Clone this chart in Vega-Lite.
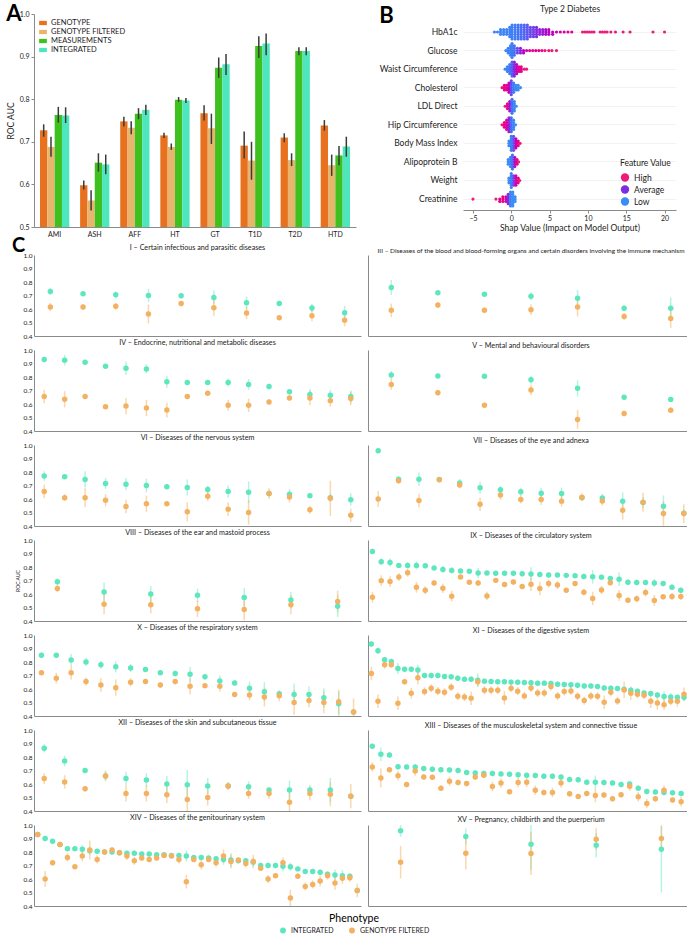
{
"$schema": "https://vega.github.io/schema/vega-lite/v6.json",
"background": "white",
"padding": {"left": 6, "top": 3, "right": 2, "bottom": 0},
"config": {
  "font": "Lato",
  "view": {"stroke": null},
  "axis": {"domainColor": "#8a8a8a", "tickColor": "#8a8a8a", "labelColor": "#222", "titleColor": "#222", "titleFontWeight": "normal", "grid": false},
  "axisY": {"labelFontSize": 6.5, "ticks": false, "tickCount": 6, "labelPadding": 2, "titleFontSize": 5, "titlePadding": 2},
  "title": {"fontWeight": "normal", "color": "#222"},
  "legend": {"layout": {"bottom": {"anchor": "middle"}}}
},
"resolve": {"scale": {"color": "independent", "fill": "independent"}, "legend": {"color": "independent", "fill": "independent"}},
"columns": 1,
"align": "none",
"spacing": -2,
"datasets": {
"c": [
{"c":"I","i":1,"a":0.73,"ae":0.025,"o":0.615,"oe":0.03},
{"c":"I","i":2,"a":0.713,"ae":0.015,"o":0.615,"oe":0.02},
{"c":"I","i":3,"a":0.705,"ae":0.025,"o":0.62,"oe":0.025},
{"c":"I","i":4,"a":0.7,"ae":0.05,"o":0.563,"oe":0.07},
{"c":"I","i":5,"a":0.698,"ae":0.02,"o":0.64,"oe":0.02},
{"c":"I","i":6,"a":0.685,"ae":0.05,"o":0.61,"oe":0.06},
{"c":"I","i":7,"a":0.647,"ae":0.045,"o":0.57,"oe":0.045},
{"c":"I","i":8,"a":0.64,"ae":0.015,"o":0.535,"oe":0.015},
{"c":"I","i":9,"a":0.607,"ae":0.03,"o":0.55,"oe":0.04},
{"c":"I","i":10,"a":0.573,"ae":0.05,"o":0.517,"oe":0.045},
{"c":"III","i":1,"a":0.76,"ae":0.055,"o":0.59,"oe":0.05},
{"c":"III","i":2,"a":0.72,"ae":0.015,"o":0.63,"oe":0.02},
{"c":"III","i":3,"a":0.71,"ae":0.015,"o":0.59,"oe":0.02},
{"c":"III","i":4,"a":0.695,"ae":0.03,"o":0.595,"oe":0.04},
{"c":"III","i":5,"a":0.68,"ae":0.06,"o":0.615,"oe":0.07},
{"c":"III","i":6,"a":0.605,"ae":0.02,"o":0.545,"oe":0.025},
{"c":"III","i":7,"a":0.605,"ae":0.08,"o":0.53,"oe":0.07},
{"c":"IV","i":1,"a":0.93,"ae":0.02,"o":0.655,"oe":0.05},
{"c":"IV","i":2,"a":0.925,"ae":0.04,"o":0.635,"oe":0.06},
{"c":"IV","i":3,"a":0.91,"ae":0.015,"o":0.655,"oe":0.015},
{"c":"IV","i":4,"a":0.88,"ae":0.015,"o":0.58,"oe":0.015},
{"c":"IV","i":5,"a":0.865,"ae":0.05,"o":0.585,"oe":0.06},
{"c":"IV","i":6,"a":0.86,"ae":0.035,"o":0.57,"oe":0.06},
{"c":"IV","i":7,"a":0.765,"ae":0.045,"o":0.555,"oe":0.055},
{"c":"IV","i":8,"a":0.76,"ae":0.015,"o":0.655,"oe":0.015},
{"c":"IV","i":9,"a":0.76,"ae":0.015,"o":0.68,"oe":0.015},
{"c":"IV","i":10,"a":0.76,"ae":0.03,"o":0.59,"oe":0.04},
{"c":"IV","i":11,"a":0.745,"ae":0.04,"o":0.59,"oe":0.05},
{"c":"IV","i":12,"a":0.73,"ae":0.02,"o":0.615,"oe":0.02},
{"c":"IV","i":13,"a":0.69,"ae":0.015,"o":0.645,"oe":0.02},
{"c":"IV","i":14,"a":0.67,"ae":0.04,"o":0.645,"oe":0.055},
{"c":"IV","i":15,"a":0.665,"ae":0.04,"o":0.625,"oe":0.045},
{"c":"IV","i":16,"a":0.655,"ae":0.045,"o":0.64,"oe":0.05},
{"c":"V","i":1,"a":0.814,"ae":0.03,"o":0.745,"oe":0.04},
{"c":"V","i":2,"a":0.807,"ae":0.015,"o":0.684,"oe":0.02},
{"c":"V","i":3,"a":0.805,"ae":0.015,"o":0.59,"oe":0.015},
{"c":"V","i":4,"a":0.78,"ae":0.03,"o":0.704,"oe":0.04},
{"c":"V","i":5,"a":0.716,"ae":0.06,"o":0.486,"oe":0.07},
{"c":"V","i":6,"a":0.65,"ae":0.015,"o":0.53,"oe":0.02},
{"c":"V","i":7,"a":0.633,"ae":0.015,"o":0.554,"oe":0.02},
{"c":"VI","i":1,"a":0.77,"ae":0.035,"o":0.655,"oe":0.05},
{"c":"VI","i":2,"a":0.765,"ae":0.015,"o":0.61,"oe":0.025},
{"c":"VI","i":3,"a":0.745,"ae":0.06,"o":0.61,"oe":0.07},
{"c":"VI","i":4,"a":0.715,"ae":0.04,"o":0.59,"oe":0.045},
{"c":"VI","i":5,"a":0.71,"ae":0.045,"o":0.545,"oe":0.05},
{"c":"VI","i":6,"a":0.7,"ae":0.05,"o":0.565,"oe":0.06},
{"c":"VI","i":7,"a":0.69,"ae":0.015,"o":0.565,"oe":0.015},
{"c":"VI","i":8,"a":0.685,"ae":0.06,"o":0.505,"oe":0.07},
{"c":"VI","i":9,"a":0.67,"ae":0.03,"o":0.62,"oe":0.035},
{"c":"VI","i":10,"a":0.655,"ae":0.045,"o":0.525,"oe":0.05},
{"c":"VI","i":11,"a":0.65,"ae":0.08,"o":0.5,"oe":0.09},
{"c":"VI","i":12,"a":0.64,"ae":0.02,"o":0.64,"oe":0.04},
{"c":"VI","i":13,"a":0.635,"ae":0.04,"o":0.615,"oe":0.04},
{"c":"VI","i":14,"a":0.625,"ae":0.02,"o":0.52,"oe":0.03},
{"c":"VI","i":15,"a":0.61,"ae":0.03,"o":0.605,"oe":0.13},
{"c":"VI","i":16,"a":0.595,"ae":0.045,"o":0.48,"oe":0.05},
{"c":"VII","i":1,"a":0.958,"ae":0.015,"o":0.6,"oe":0.06},
{"c":"VII","i":2,"a":0.747,"ae":0.02,"o":0.735,"oe":0.02},
{"c":"VII","i":3,"a":0.747,"ae":0.05,"o":0.589,"oe":0.05},
{"c":"VII","i":4,"a":0.745,"ae":0.015,"o":0.742,"oe":0.015},
{"c":"VII","i":5,"a":0.718,"ae":0.03,"o":0.703,"oe":0.025},
{"c":"VII","i":6,"a":0.683,"ae":0.045,"o":0.561,"oe":0.05},
{"c":"VII","i":7,"a":0.668,"ae":0.03,"o":0.63,"oe":0.035},
{"c":"VII","i":8,"a":0.653,"ae":0.03,"o":0.596,"oe":0.03},
{"c":"VII","i":9,"a":0.643,"ae":0.04,"o":0.596,"oe":0.04},
{"c":"VII","i":10,"a":0.64,"ae":0.045,"o":0.584,"oe":0.04},
{"c":"VII","i":11,"a":0.61,"ae":0.02,"o":0.613,"oe":0.03},
{"c":"VII","i":12,"a":0.608,"ae":0.03,"o":0.586,"oe":0.035},
{"c":"VII","i":13,"a":0.584,"ae":0.065,"o":0.517,"oe":0.07},
{"c":"VII","i":14,"a":0.574,"ae":0.04,"o":0.576,"oe":0.07},
{"c":"VII","i":15,"a":0.546,"ae":0.08,"o":0.492,"oe":0.09},
{"c":"VII","i":16,"a":0.494,"ae":0.03,"o":0.492,"oe":0.07},
{"c":"VIII","i":1,"a":0.69,"ae":0.025,"o":0.64,"oe":0.025},
{"c":"VIII","i":2,"a":0.615,"ae":0.07,"o":0.525,"oe":0.075},
{"c":"VIII","i":3,"a":0.6,"ae":0.06,"o":0.52,"oe":0.065},
{"c":"VIII","i":4,"a":0.59,"ae":0.05,"o":0.49,"oe":0.06},
{"c":"VIII","i":5,"a":0.575,"ae":0.07,"o":0.485,"oe":0.08},
{"c":"VIII","i":6,"a":0.555,"ae":0.06,"o":0.52,"oe":0.07},
{"c":"VIII","i":7,"a":0.51,"ae":0.08,"o":0.545,"oe":0.08},
{"c":"IX","i":1,"a":0.915,"ae":0.02,"o":0.576,"oe":0.04},
{"c":"IX","i":2,"a":0.839,"ae":0.025,"o":0.699,"oe":0.04},
{"c":"IX","i":3,"a":0.834,"ae":0.03,"o":0.692,"oe":0.04},
{"c":"IX","i":4,"a":0.812,"ae":0.015,"o":0.726,"oe":0.03},
{"c":"IX","i":5,"a":0.812,"ae":0.025,"o":0.758,"oe":0.03},
{"c":"IX","i":6,"a":0.812,"ae":0.03,"o":0.65,"oe":0.04},
{"c":"IX","i":7,"a":0.81,"ae":0.02,"o":0.628,"oe":0.03},
{"c":"IX","i":8,"a":0.792,"ae":0.015,"o":0.682,"oe":0.02},
{"c":"IX","i":9,"a":0.782,"ae":0.025,"o":0.643,"oe":0.035},
{"c":"IX","i":10,"a":0.775,"ae":0.025,"o":0.584,"oe":0.04},
{"c":"IX","i":11,"a":0.77,"ae":0.015,"o":0.726,"oe":0.015},
{"c":"IX","i":12,"a":0.768,"ae":0.015,"o":0.687,"oe":0.015},
{"c":"IX","i":13,"a":0.755,"ae":0.04,"o":0.682,"oe":0.02},
{"c":"IX","i":14,"a":0.755,"ae":0.015,"o":0.586,"oe":0.03},
{"c":"IX","i":15,"a":0.753,"ae":0.015,"o":0.701,"oe":0.015},
{"c":"IX","i":16,"a":0.753,"ae":0.015,"o":0.67,"oe":0.015},
{"c":"IX","i":17,"a":0.753,"ae":0.015,"o":0.689,"oe":0.02},
{"c":"IX","i":18,"a":0.75,"ae":0.02,"o":0.655,"oe":0.02},
{"c":"IX","i":19,"a":0.748,"ae":0.05,"o":0.672,"oe":0.05},
{"c":"IX","i":20,"a":0.745,"ae":0.02,"o":0.64,"oe":0.05},
{"c":"IX","i":21,"a":0.74,"ae":0.02,"o":0.677,"oe":0.03},
{"c":"IX","i":22,"a":0.74,"ae":0.015,"o":0.667,"oe":0.03},
{"c":"IX","i":23,"a":0.738,"ae":0.015,"o":0.628,"oe":0.015},
{"c":"IX","i":24,"a":0.735,"ae":0.015,"o":0.677,"oe":0.02},
{"c":"IX","i":25,"a":0.73,"ae":0.02,"o":0.613,"oe":0.025},
{"c":"IX","i":26,"a":0.727,"ae":0.05,"o":0.567,"oe":0.05},
{"c":"IX","i":27,"a":0.725,"ae":0.02,"o":0.63,"oe":0.03},
{"c":"IX","i":28,"a":0.714,"ae":0.02,"o":0.684,"oe":0.02},
{"c":"IX","i":29,"a":0.71,"ae":0.05,"o":0.589,"oe":0.04},
{"c":"IX","i":30,"a":0.687,"ae":0.02,"o":0.554,"oe":0.02},
{"c":"IX","i":31,"a":0.685,"ae":0.02,"o":0.564,"oe":0.025},
{"c":"IX","i":32,"a":0.685,"ae":0.02,"o":0.611,"oe":0.03},
{"c":"IX","i":33,"a":0.682,"ae":0.03,"o":0.552,"oe":0.04},
{"c":"IX","i":34,"a":0.677,"ae":0.02,"o":0.579,"oe":0.02},
{"c":"IX","i":35,"a":0.65,"ae":0.02,"o":0.581,"oe":0.025},
{"c":"IX","i":36,"a":0.628,"ae":0.02,"o":0.581,"oe":0.025},
{"c":"IX","i":37,"a":0.6,"ae":0.02,"o":0.591,"oe":0.05},
{"c":"X","i":1,"a":0.85,"ae":0.02,"o":0.72,"oe":0.015},
{"c":"X","i":2,"a":0.85,"ae":0.015,"o":0.68,"oe":0.04},
{"c":"X","i":3,"a":0.815,"ae":0.045,"o":0.72,"oe":0.05},
{"c":"X","i":4,"a":0.8,"ae":0.03,"o":0.655,"oe":0.03},
{"c":"X","i":5,"a":0.78,"ae":0.03,"o":0.63,"oe":0.05},
{"c":"X","i":6,"a":0.765,"ae":0.04,"o":0.61,"oe":0.06},
{"c":"X","i":7,"a":0.755,"ae":0.03,"o":0.65,"oe":0.03},
{"c":"X","i":8,"a":0.745,"ae":0.015,"o":0.655,"oe":0.015},
{"c":"X","i":9,"a":0.72,"ae":0.015,"o":0.63,"oe":0.02},
{"c":"X","i":10,"a":0.715,"ae":0.02,"o":0.655,"oe":0.02},
{"c":"X","i":11,"a":0.71,"ae":0.055,"o":0.62,"oe":0.06},
{"c":"X","i":12,"a":0.69,"ae":0.02,"o":0.625,"oe":0.02},
{"c":"X","i":13,"a":0.66,"ae":0.04,"o":0.62,"oe":0.04},
{"c":"X","i":14,"a":0.645,"ae":0.02,"o":0.56,"oe":0.015},
{"c":"X","i":15,"a":0.605,"ae":0.05,"o":0.555,"oe":0.04},
{"c":"X","i":16,"a":0.58,"ae":0.07,"o":0.54,"oe":0.07},
{"c":"X","i":17,"a":0.565,"ae":0.015,"o":0.55,"oe":0.04},
{"c":"X","i":18,"a":0.56,"ae":0.08,"o":0.5,"oe":0.09},
{"c":"X","i":19,"a":0.56,"ae":0.06,"o":0.515,"oe":0.05},
{"c":"X","i":20,"a":0.535,"ae":0.07,"o":0.5,"oe":0.08},
{"c":"X","i":21,"a":0.49,"ae":0.09,"o":0.505,"oe":0.09},
{"c":"X","i":22,"a":0.43,"ae":0.02,"o":0.43,"oe":0.1},
{"c":"XI","i":1,"a":0.933,"ae":0.02,"o":0.715,"oe":0.05},
{"c":"XI","i":2,"a":0.884,"ae":0.025,"o":0.509,"oe":0.05},
{"c":"XI","i":3,"a":0.817,"ae":0.02,"o":0.78,"oe":0.03},
{"c":"XI","i":4,"a":0.804,"ae":0.015,"o":0.78,"oe":0.02},
{"c":"XI","i":5,"a":0.752,"ae":0.04,"o":0.494,"oe":0.05},
{"c":"XI","i":6,"a":0.747,"ae":0.02,"o":0.653,"oe":0.02},
{"c":"XI","i":7,"a":0.747,"ae":0.02,"o":0.569,"oe":0.04},
{"c":"XI","i":8,"a":0.74,"ae":0.04,"o":0.683,"oe":0.05},
{"c":"XI","i":9,"a":0.7,"ae":0.02,"o":0.581,"oe":0.03},
{"c":"XI","i":10,"a":0.7,"ae":0.02,"o":0.606,"oe":0.03},
{"c":"XI","i":11,"a":0.7,"ae":0.02,"o":0.584,"oe":0.03},
{"c":"XI","i":12,"a":0.693,"ae":0.02,"o":0.576,"oe":0.03},
{"c":"XI","i":13,"a":0.69,"ae":0.02,"o":0.613,"oe":0.03},
{"c":"XI","i":14,"a":0.68,"ae":0.02,"o":0.546,"oe":0.03},
{"c":"XI","i":15,"a":0.673,"ae":0.02,"o":0.541,"oe":0.03},
{"c":"XI","i":16,"a":0.673,"ae":0.02,"o":0.532,"oe":0.05},
{"c":"XI","i":17,"a":0.665,"ae":0.05,"o":0.653,"oe":0.03},
{"c":"XI","i":18,"a":0.658,"ae":0.02,"o":0.591,"oe":0.03},
{"c":"XI","i":19,"a":0.656,"ae":0.02,"o":0.591,"oe":0.03},
{"c":"XI","i":20,"a":0.653,"ae":0.02,"o":0.591,"oe":0.03},
{"c":"XI","i":21,"a":0.653,"ae":0.02,"o":0.534,"oe":0.05},
{"c":"XI","i":22,"a":0.651,"ae":0.02,"o":0.606,"oe":0.03},
{"c":"XI","i":23,"a":0.65,"ae":0.02,"o":0.584,"oe":0.03},
{"c":"XI","i":24,"a":0.648,"ae":0.02,"o":0.549,"oe":0.03},
{"c":"XI","i":25,"a":0.646,"ae":0.02,"o":0.608,"oe":0.03},
{"c":"XI","i":26,"a":0.643,"ae":0.02,"o":0.571,"oe":0.03},
{"c":"XI","i":27,"a":0.643,"ae":0.02,"o":0.571,"oe":0.03},
{"c":"XI","i":28,"a":0.641,"ae":0.02,"o":0.618,"oe":0.03},
{"c":"XI","i":29,"a":0.636,"ae":0.02,"o":0.549,"oe":0.03},
{"c":"XI","i":30,"a":0.634,"ae":0.02,"o":0.581,"oe":0.03},
{"c":"XI","i":31,"a":0.631,"ae":0.02,"o":0.586,"oe":0.03},
{"c":"XI","i":32,"a":0.627,"ae":0.02,"o":0.546,"oe":0.03},
{"c":"XI","i":33,"a":0.623,"ae":0.02,"o":0.514,"oe":0.03},
{"c":"XI","i":34,"a":0.623,"ae":0.02,"o":0.549,"oe":0.03},
{"c":"XI","i":35,"a":0.618,"ae":0.02,"o":0.546,"oe":0.03},
{"c":"XI","i":36,"a":0.608,"ae":0.02,"o":0.502,"oe":0.05},
{"c":"XI","i":37,"a":0.606,"ae":0.02,"o":0.576,"oe":0.03},
{"c":"XI","i":38,"a":0.603,"ae":0.02,"o":0.512,"oe":0.03},
{"c":"XI","i":39,"a":0.598,"ae":0.02,"o":0.593,"oe":0.06},
{"c":"XI","i":40,"a":0.591,"ae":0.02,"o":0.569,"oe":0.05},
{"c":"XI","i":41,"a":0.584,"ae":0.02,"o":0.561,"oe":0.03},
{"c":"XI","i":42,"a":0.571,"ae":0.02,"o":0.554,"oe":0.03},
{"c":"XI","i":43,"a":0.566,"ae":0.02,"o":0.509,"oe":0.05},
{"c":"XI","i":44,"a":0.556,"ae":0.02,"o":0.497,"oe":0.05},
{"c":"XI","i":45,"a":0.544,"ae":0.04,"o":0.484,"oe":0.04},
{"c":"XI","i":46,"a":0.541,"ae":0.03,"o":0.509,"oe":0.03},
{"c":"XI","i":47,"a":0.539,"ae":0.02,"o":0.509,"oe":0.04},
{"c":"XI","i":48,"a":0.539,"ae":0.03,"o":0.561,"oe":0.05},
{"c":"XI","i":49,"a":0.45,"ae":0.02,"o":0.477,"oe":0.04},
{"c":"XII","i":1,"a":0.865,"ae":0.03,"o":0.64,"oe":0.04},
{"c":"XII","i":2,"a":0.77,"ae":0.04,"o":0.615,"oe":0.05},
{"c":"XII","i":3,"a":0.7,"ae":0.015,"o":0.565,"oe":0.02},
{"c":"XII","i":4,"a":0.66,"ae":0.03,"o":0.66,"oe":0.04},
{"c":"XII","i":5,"a":0.64,"ae":0.05,"o":0.53,"oe":0.06},
{"c":"XII","i":6,"a":0.63,"ae":0.05,"o":0.53,"oe":0.06},
{"c":"XII","i":7,"a":0.6,"ae":0.06,"o":0.52,"oe":0.06},
{"c":"XII","i":8,"a":0.595,"ae":0.11,"o":0.485,"oe":0.09},
{"c":"XII","i":9,"a":0.585,"ae":0.06,"o":0.5,"oe":0.06},
{"c":"XII","i":10,"a":0.585,"ae":0.02,"o":0.585,"oe":0.03},
{"c":"XII","i":11,"a":0.58,"ae":0.04,"o":0.53,"oe":0.04},
{"c":"XII","i":12,"a":0.555,"ae":0.02,"o":0.53,"oe":0.04},
{"c":"XII","i":13,"a":0.555,"ae":0.07,"o":0.465,"oe":0.07},
{"c":"XII","i":14,"a":0.555,"ae":0.04,"o":0.53,"oe":0.05},
{"c":"XII","i":15,"a":0.555,"ae":0.09,"o":0.525,"oe":0.09},
{"c":"XII","i":16,"a":0.51,"ae":0.02,"o":0.51,"oe":0.09},
{"c":"XIII","i":1,"a":0.88,"ae":0.02,"o":0.726,"oe":0.035},
{"c":"XIII","i":2,"a":0.82,"ae":0.05,"o":0.645,"oe":0.07},
{"c":"XIII","i":3,"a":0.815,"ae":0.02,"o":0.706,"oe":0.02},
{"c":"XIII","i":4,"a":0.728,"ae":0.02,"o":0.662,"oe":0.035},
{"c":"XIII","i":5,"a":0.726,"ae":0.02,"o":0.596,"oe":0.02},
{"c":"XIII","i":6,"a":0.726,"ae":0.02,"o":0.697,"oe":0.035},
{"c":"XIII","i":7,"a":0.714,"ae":0.02,"o":0.652,"oe":0.02},
{"c":"XIII","i":8,"a":0.71,"ae":0.02,"o":0.65,"oe":0.02},
{"c":"XIII","i":9,"a":0.706,"ae":0.02,"o":0.569,"oe":0.02},
{"c":"XIII","i":10,"a":0.704,"ae":0.02,"o":0.62,"oe":0.035},
{"c":"XIII","i":11,"a":0.7,"ae":0.02,"o":0.611,"oe":0.02},
{"c":"XIII","i":12,"a":0.685,"ae":0.02,"o":0.603,"oe":0.02},
{"c":"XIII","i":13,"a":0.682,"ae":0.02,"o":0.652,"oe":0.02},
{"c":"XIII","i":14,"a":0.678,"ae":0.02,"o":0.665,"oe":0.02},
{"c":"XIII","i":15,"a":0.678,"ae":0.02,"o":0.581,"oe":0.035},
{"c":"XIII","i":16,"a":0.675,"ae":0.02,"o":0.608,"oe":0.035},
{"c":"XIII","i":17,"a":0.672,"ae":0.02,"o":0.542,"oe":0.02},
{"c":"XIII","i":18,"a":0.668,"ae":0.02,"o":0.611,"oe":0.035},
{"c":"XIII","i":19,"a":0.665,"ae":0.02,"o":0.613,"oe":0.035},
{"c":"XIII","i":20,"a":0.663,"ae":0.02,"o":0.554,"oe":0.035},
{"c":"XIII","i":21,"a":0.658,"ae":0.02,"o":0.537,"oe":0.02},
{"c":"XIII","i":22,"a":0.658,"ae":0.02,"o":0.537,"oe":0.035},
{"c":"XIII","i":23,"a":0.652,"ae":0.02,"o":0.608,"oe":0.035},
{"c":"XIII","i":24,"a":0.633,"ae":0.02,"o":0.527,"oe":0.02},
{"c":"XIII","i":25,"a":0.631,"ae":0.02,"o":0.508,"oe":0.02},
{"c":"XIII","i":26,"a":0.613,"ae":0.02,"o":0.53,"oe":0.02},
{"c":"XIII","i":27,"a":0.613,"ae":0.05,"o":0.515,"oe":0.05},
{"c":"XIII","i":28,"a":0.611,"ae":0.02,"o":0.518,"oe":0.02},
{"c":"XIII","i":29,"a":0.608,"ae":0.02,"o":0.491,"oe":0.02},
{"c":"XIII","i":30,"a":0.596,"ae":0.02,"o":0.52,"oe":0.02},
{"c":"XIII","i":31,"a":0.6,"ae":0.02,"o":0.584,"oe":0.035},
{"c":"XIII","i":32,"a":0.569,"ae":0.02,"o":0.505,"oe":0.035},
{"c":"XIII","i":33,"a":0.545,"ae":0.02,"o":0.456,"oe":0.035},
{"c":"XIII","i":34,"a":0.541,"ae":0.02,"o":0.491,"oe":0.02},
{"c":"XIII","i":35,"a":0.537,"ae":0.02,"o":0.554,"oe":0.035},
{"c":"XIII","i":36,"a":0.535,"ae":0.02,"o":0.481,"oe":0.02},
{"c":"XIII","i":37,"a":0.53,"ae":0.02,"o":0.469,"oe":0.035},
{"c":"XIII","i":38,"a":0.53,"ae":0.02,"o":0.503,"oe":0.02},
{"c":"XIV","i":1,"a":0.93,"ae":0.015,"o":0.93,"oe":0.015},
{"c":"XIV","i":2,"a":0.9,"ae":0.02,"o":0.6,"oe":0.06},
{"c":"XIV","i":3,"a":0.88,"ae":0.015,"o":0.72,"oe":0.02},
{"c":"XIV","i":4,"a":0.855,"ae":0.015,"o":0.855,"oe":0.015},
{"c":"XIV","i":5,"a":0.825,"ae":0.02,"o":0.76,"oe":0.03},
{"c":"XIV","i":6,"a":0.825,"ae":0.015,"o":0.69,"oe":0.015},
{"c":"XIV","i":7,"a":0.82,"ae":0.03,"o":0.77,"oe":0.04},
{"c":"XIV","i":8,"a":0.81,"ae":0.03,"o":0.815,"oe":0.07},
{"c":"XIV","i":9,"a":0.805,"ae":0.02,"o":0.745,"oe":0.03},
{"c":"XIV","i":10,"a":0.8,"ae":0.015,"o":0.8,"oe":0.015},
{"c":"XIV","i":11,"a":0.8,"ae":0.02,"o":0.815,"oe":0.02},
{"c":"XIV","i":12,"a":0.795,"ae":0.015,"o":0.795,"oe":0.015},
{"c":"XIV","i":13,"a":0.79,"ae":0.02,"o":0.77,"oe":0.03},
{"c":"XIV","i":14,"a":0.79,"ae":0.02,"o":0.735,"oe":0.03},
{"c":"XIV","i":15,"a":0.785,"ae":0.015,"o":0.755,"oe":0.02},
{"c":"XIV","i":16,"a":0.785,"ae":0.015,"o":0.745,"oe":0.02},
{"c":"XIV","i":17,"a":0.78,"ae":0.015,"o":0.755,"oe":0.02},
{"c":"XIV","i":18,"a":0.78,"ae":0.015,"o":0.775,"oe":0.015},
{"c":"XIV","i":19,"a":0.775,"ae":0.015,"o":0.77,"oe":0.015},
{"c":"XIV","i":20,"a":0.775,"ae":0.02,"o":0.745,"oe":0.03},
{"c":"XIV","i":21,"a":0.77,"ae":0.04,"o":0.58,"oe":0.05},
{"c":"XIV","i":22,"a":0.76,"ae":0.015,"o":0.745,"oe":0.02},
{"c":"XIV","i":23,"a":0.76,"ae":0.02,"o":0.705,"oe":0.035},
{"c":"XIV","i":24,"a":0.755,"ae":0.015,"o":0.745,"oe":0.02},
{"c":"XIV","i":25,"a":0.75,"ae":0.02,"o":0.72,"oe":0.03},
{"c":"XIV","i":26,"a":0.745,"ae":0.04,"o":0.77,"oe":0.05},
{"c":"XIV","i":27,"a":0.74,"ae":0.05,"o":0.73,"oe":0.05},
{"c":"XIV","i":28,"a":0.735,"ae":0.015,"o":0.74,"oe":0.02},
{"c":"XIV","i":29,"a":0.735,"ae":0.02,"o":0.715,"oe":0.03},
{"c":"XIV","i":30,"a":0.725,"ae":0.03,"o":0.73,"oe":0.05},
{"c":"XIV","i":31,"a":0.7,"ae":0.015,"o":0.68,"oe":0.02},
{"c":"XIV","i":32,"a":0.7,"ae":0.02,"o":0.6,"oe":0.03},
{"c":"XIV","i":33,"a":0.7,"ae":0.02,"o":0.625,"oe":0.02},
{"c":"XIV","i":34,"a":0.695,"ae":0.04,"o":0.72,"oe":0.04},
{"c":"XIV","i":35,"a":0.69,"ae":0.03,"o":0.46,"oe":0.06},
{"c":"XIV","i":36,"a":0.675,"ae":0.015,"o":0.62,"oe":0.02},
{"c":"XIV","i":37,"a":0.655,"ae":0.015,"o":0.545,"oe":0.03},
{"c":"XIV","i":38,"a":0.655,"ae":0.02,"o":0.56,"oe":0.03},
{"c":"XIV","i":39,"a":0.65,"ae":0.02,"o":0.585,"oe":0.04},
{"c":"XIV","i":40,"a":0.635,"ae":0.02,"o":0.625,"oe":0.03},
{"c":"XIV","i":41,"a":0.63,"ae":0.04,"o":0.57,"oe":0.05},
{"c":"XIV","i":42,"a":0.625,"ae":0.04,"o":0.605,"oe":0.04},
{"c":"XIV","i":43,"a":0.62,"ae":0.02,"o":0.61,"oe":0.03},
{"c":"XIV","i":44,"a":0.515,"ae":0.02,"o":0.515,"oe":0.05},
{"c":"XV","i":1,"a":0.957,"ae":0.045,"o":0.724,"oe":0.12},
{"c":"XV","i":2,"a":0.915,"ae":0.06,"o":0.79,"oe":0.12},
{"c":"XV","i":3,"a":0.858,"ae":0.19,"o":0.789,"oe":0.16},
{"c":"XV","i":4,"a":0.85,"ae":0.09,"o":0.895,"oe":0.08},
{"c":"XV","i":5,"a":0.82,"ae":0.32,"o":0.9,"oe":0.09}
]
},
"concat": [
{
"spacing": 23,
"resolve": {"scale": {"color": "independent", "fill": "independent"}, "legend": {"color": "independent", "fill": "independent"}},
"hconcat": [
{
"title": {"text": "A", "anchor": "start", "frame": "bounds", "fontSize": 22, "fontWeight": "bold", "color": "#000", "offset": -16},
"width": 322, "height": 213,
"data": {"values": [
{"p":"AMI","g":"GENOTYPE","v":0.727,"lo":0.712,"hi":0.741},
{"p":"AMI","g":"GENOTYPE FILTERED","v":0.688,"lo":0.665,"hi":0.712},
{"p":"AMI","g":"MEASUREMENTS","v":0.763,"lo":0.745,"hi":0.782},
{"p":"AMI","g":"INTEGRATED","v":0.762,"lo":0.744,"hi":0.781},
{"p":"ASH","g":"GENOTYPE","v":0.598,"lo":0.588,"hi":0.609},
{"p":"ASH","g":"GENOTYPE FILTERED","v":0.562,"lo":0.539,"hi":0.586},
{"p":"ASH","g":"MEASUREMENTS","v":0.651,"lo":0.63,"hi":0.673},
{"p":"ASH","g":"INTEGRATED","v":0.647,"lo":0.624,"hi":0.67},
{"p":"AFF","g":"GENOTYPE","v":0.748,"lo":0.736,"hi":0.759},
{"p":"AFF","g":"GENOTYPE FILTERED","v":0.733,"lo":0.718,"hi":0.748},
{"p":"AFF","g":"MEASUREMENTS","v":0.766,"lo":0.753,"hi":0.779},
{"p":"AFF","g":"INTEGRATED","v":0.775,"lo":0.763,"hi":0.787},
{"p":"HT","g":"GENOTYPE","v":0.715,"lo":0.709,"hi":0.721},
{"p":"HT","g":"GENOTYPE FILTERED","v":0.688,"lo":0.681,"hi":0.696},
{"p":"HT","g":"MEASUREMENTS","v":0.799,"lo":0.794,"hi":0.805},
{"p":"HT","g":"INTEGRATED","v":0.797,"lo":0.791,"hi":0.803},
{"p":"GT","g":"GENOTYPE","v":0.767,"lo":0.75,"hi":0.786},
{"p":"GT","g":"GENOTYPE FILTERED","v":0.732,"lo":0.695,"hi":0.766},
{"p":"GT","g":"MEASUREMENTS","v":0.874,"lo":0.85,"hi":0.898},
{"p":"GT","g":"INTEGRATED","v":0.882,"lo":0.857,"hi":0.906},
{"p":"T1D","g":"GENOTYPE","v":0.691,"lo":0.661,"hi":0.724},
{"p":"T1D","g":"GENOTYPE FILTERED","v":0.656,"lo":0.611,"hi":0.7},
{"p":"T1D","g":"MEASUREMENTS","v":0.925,"lo":0.897,"hi":0.948},
{"p":"T1D","g":"INTEGRATED","v":0.931,"lo":0.903,"hi":0.954},
{"p":"T2D","g":"GENOTYPE","v":0.71,"lo":0.699,"hi":0.72},
{"p":"T2D","g":"GENOTYPE FILTERED","v":0.657,"lo":0.643,"hi":0.673},
{"p":"T2D","g":"MEASUREMENTS","v":0.913,"lo":0.903,"hi":0.922},
{"p":"T2D","g":"INTEGRATED","v":0.913,"lo":0.903,"hi":0.922},
{"p":"HTD","g":"GENOTYPE","v":0.738,"lo":0.726,"hi":0.751},
{"p":"HTD","g":"GENOTYPE FILTERED","v":0.645,"lo":0.62,"hi":0.67},
{"p":"HTD","g":"MEASUREMENTS","v":0.668,"lo":0.645,"hi":0.69},
{"p":"HTD","g":"INTEGRATED","v":0.689,"lo":0.665,"hi":0.712}
]},
"encoding": {
  "x": {"field": "p", "type": "nominal", "sort": null, "scale": {"paddingInner": 0.27, "paddingOuter": 0.15}, "axis": {"title": null, "labelAngle": 0, "labelFontSize": 7, "ticks": false, "labelPadding": 3}},
  "xOffset": {"field": "g", "type": "nominal", "sort": ["GENOTYPE","GENOTYPE FILTERED","MEASUREMENTS","INTEGRATED"], "scale": {"paddingInner": 0, "paddingOuter": 0}}
},
"layer": [
{"mark": {"type": "bar"},
 "encoding": {
  "y": {"field": "v", "type": "quantitative", "scale": {"domain": [0.5, 1.0], "nice": false, "zero": false}, "axis": {"title": "ROC AUC", "labelFontSize": 7, "titleFontSize": 8.5, "ticks": true, "tickSize": 3, "labelPadding": 2, "titlePadding": 4}},
  "y2": {"datum": 0.5},
  "color": {"field": "g", "type": "nominal", "sort": ["GENOTYPE","GENOTYPE FILTERED","MEASUREMENTS","INTEGRATED"], "scale": {"domain": ["GENOTYPE","GENOTYPE FILTERED","MEASUREMENTS","INTEGRATED"], "range": ["#E8711F","#E8B56F","#3EC11E","#4EE7BD"]}, "legend": {"title": null, "orient": "top-left", "offset": 5, "labelFontSize": 7.5, "symbolType": "M-1,-0.55H1V0.55H-1Z", "symbolSize": 60, "rowPadding": 1, "symbolStrokeWidth": 0, "labelColor": "#222"}}
 }},
{"mark": {"type": "rule", "color": "#3a3a3a", "strokeWidth": 1.5},
 "encoding": {"y": {"field": "lo", "type": "quantitative"}, "y2": {"field": "hi"}}}
]
},
{
"title": {"text": "B", "anchor": "start", "frame": "bounds", "fontSize": 22, "fontWeight": "bold", "color": "#000", "offset": -24},
"width": 213, "height": 196,
"resolve": {"axis": {"x": "independent"}},
"layer": [
{"data": {"values": [
{"f":"HbA1c","x":-2.2,"v":0.05,"s":0},
{"f":"HbA1c","x":-1.8,"v":0.05,"s":0},
{"f":"HbA1c","x":-1.4,"v":0.05,"s":0},{"f":"HbA1c","x":-1.4,"v":0.05,"s":1},{"f":"HbA1c","x":-1.4,"v":0.05,"s":-1},
{"f":"HbA1c","x":-1.0,"v":0.05,"s":0},{"f":"HbA1c","x":-1.0,"v":0.05,"s":1},{"f":"HbA1c","x":-1.0,"v":0.05,"s":-1},
{"f":"HbA1c","x":-0.6,"v":0.05,"s":0},{"f":"HbA1c","x":-0.6,"v":0.05,"s":1},{"f":"HbA1c","x":-0.6,"v":0.05,"s":-1},
{"f":"HbA1c","x":-0.2,"v":0.08,"s":0},{"f":"HbA1c","x":-0.2,"v":0.08,"s":1},{"f":"HbA1c","x":-0.2,"v":0.08,"s":-1},{"f":"HbA1c","x":-0.2,"v":0.08,"s":2},{"f":"HbA1c","x":-0.2,"v":0.08,"s":-2},
{"f":"HbA1c","x":0.1,"v":0.1,"s":0},{"f":"HbA1c","x":0.1,"v":0.1,"s":1},{"f":"HbA1c","x":0.1,"v":0.1,"s":-1},{"f":"HbA1c","x":0.1,"v":0.1,"s":2},{"f":"HbA1c","x":0.1,"v":0.1,"s":-2},{"f":"HbA1c","x":0.1,"v":0.1,"s":3},{"f":"HbA1c","x":0.1,"v":0.1,"s":-3},
{"f":"HbA1c","x":0.5,"v":0.12,"s":0},{"f":"HbA1c","x":0.5,"v":0.12,"s":1},{"f":"HbA1c","x":0.5,"v":0.12,"s":-1},{"f":"HbA1c","x":0.5,"v":0.12,"s":2},{"f":"HbA1c","x":0.5,"v":0.12,"s":-2},{"f":"HbA1c","x":0.5,"v":0.12,"s":3},{"f":"HbA1c","x":0.5,"v":0.12,"s":-3},
{"f":"HbA1c","x":0.9,"v":0.18,"s":0},{"f":"HbA1c","x":0.9,"v":0.18,"s":1},{"f":"HbA1c","x":0.9,"v":0.18,"s":-1},{"f":"HbA1c","x":0.9,"v":0.18,"s":2},{"f":"HbA1c","x":0.9,"v":0.18,"s":-2},{"f":"HbA1c","x":0.9,"v":0.18,"s":3},{"f":"HbA1c","x":0.9,"v":0.18,"s":-3},
{"f":"HbA1c","x":1.3,"v":0.22,"s":0},{"f":"HbA1c","x":1.3,"v":0.22,"s":1},{"f":"HbA1c","x":1.3,"v":0.22,"s":-1},{"f":"HbA1c","x":1.3,"v":0.22,"s":2},{"f":"HbA1c","x":1.3,"v":0.22,"s":-2},{"f":"HbA1c","x":1.3,"v":0.22,"s":3},{"f":"HbA1c","x":1.3,"v":0.22,"s":-3},
{"f":"HbA1c","x":1.7,"v":0.28,"s":0},{"f":"HbA1c","x":1.7,"v":0.28,"s":1},{"f":"HbA1c","x":1.7,"v":0.28,"s":-1},{"f":"HbA1c","x":1.7,"v":0.28,"s":2},{"f":"HbA1c","x":1.7,"v":0.28,"s":-2},{"f":"HbA1c","x":1.7,"v":0.28,"s":3},{"f":"HbA1c","x":1.7,"v":0.28,"s":-3},
{"f":"HbA1c","x":2.1,"v":0.33,"s":0},{"f":"HbA1c","x":2.1,"v":0.33,"s":1},{"f":"HbA1c","x":2.1,"v":0.33,"s":-1},{"f":"HbA1c","x":2.1,"v":0.33,"s":2},{"f":"HbA1c","x":2.1,"v":0.33,"s":-2},{"f":"HbA1c","x":2.1,"v":0.33,"s":3},{"f":"HbA1c","x":2.1,"v":0.33,"s":-3},
{"f":"HbA1c","x":2.5,"v":0.4,"s":0},{"f":"HbA1c","x":2.5,"v":0.4,"s":1},{"f":"HbA1c","x":2.5,"v":0.4,"s":-1},{"f":"HbA1c","x":2.5,"v":0.4,"s":2},{"f":"HbA1c","x":2.5,"v":0.4,"s":-2},
{"f":"HbA1c","x":2.9,"v":0.45,"s":0},{"f":"HbA1c","x":2.9,"v":0.45,"s":1},{"f":"HbA1c","x":2.9,"v":0.45,"s":-1},{"f":"HbA1c","x":2.9,"v":0.45,"s":2},{"f":"HbA1c","x":2.9,"v":0.45,"s":-2},
{"f":"HbA1c","x":3.3,"v":0.5,"s":0},{"f":"HbA1c","x":3.3,"v":0.5,"s":1},{"f":"HbA1c","x":3.3,"v":0.5,"s":-1},{"f":"HbA1c","x":3.3,"v":0.5,"s":2},{"f":"HbA1c","x":3.3,"v":0.5,"s":-2},
{"f":"HbA1c","x":3.7,"v":0.55,"s":0},{"f":"HbA1c","x":3.7,"v":0.55,"s":1},{"f":"HbA1c","x":3.7,"v":0.55,"s":-1},
{"f":"HbA1c","x":4.1,"v":0.58,"s":0},{"f":"HbA1c","x":4.1,"v":0.58,"s":1},{"f":"HbA1c","x":4.1,"v":0.58,"s":-1},
{"f":"HbA1c","x":4.5,"v":0.62,"s":0},{"f":"HbA1c","x":4.5,"v":0.62,"s":1},{"f":"HbA1c","x":4.5,"v":0.62,"s":-1},
{"f":"HbA1c","x":4.9,"v":0.65,"s":0},{"f":"HbA1c","x":4.9,"v":0.65,"s":1},{"f":"HbA1c","x":4.9,"v":0.65,"s":-1},
{"f":"HbA1c","x":5.4,"v":0.7,"s":0},{"f":"HbA1c","x":5.4,"v":0.7,"s":1},
{"f":"HbA1c","x":5.9,"v":0.75,"s":0},{"f":"HbA1c","x":6.4,"v":0.78,"s":0},{"f":"HbA1c","x":6.9,"v":0.8,"s":0},{"f":"HbA1c","x":7.4,"v":0.83,"s":0},{"f":"HbA1c","x":7.9,"v":0.86,"s":0},
{"f":"HbA1c","x":9.3,"v":1,"s":0},{"f":"HbA1c","x":9.6,"v":1,"s":0},{"f":"HbA1c","x":9.9,"v":1,"s":0},{"f":"HbA1c","x":10.2,"v":1,"s":0},{"f":"HbA1c","x":10.5,"v":1,"s":0},{"f":"HbA1c","x":10.8,"v":1,"s":0},
{"f":"HbA1c","x":11.6,"v":1,"s":0},{"f":"HbA1c","x":11.9,"v":1,"s":0},{"f":"HbA1c","x":12.2,"v":1,"s":0},{"f":"HbA1c","x":12.5,"v":1,"s":0},{"f":"HbA1c","x":13.0,"v":1,"s":0},{"f":"HbA1c","x":13.6,"v":1,"s":0},
{"f":"HbA1c","x":14.6,"v":1,"s":0},{"f":"HbA1c","x":15.5,"v":1,"s":0},{"f":"HbA1c","x":18.5,"v":1,"s":0},{"f":"HbA1c","x":20.0,"v":1,"s":0},
{"f":"Glucose","x":-0.7,"v":0.1,"s":0},
{"f":"Glucose","x":-0.4,"v":0.1,"s":0},{"f":"Glucose","x":-0.4,"v":0.1,"s":1},{"f":"Glucose","x":-0.4,"v":0.1,"s":-1},
{"f":"Glucose","x":-0.1,"v":0.1,"s":0},{"f":"Glucose","x":-0.1,"v":0.1,"s":1},{"f":"Glucose","x":-0.1,"v":0.1,"s":-1},{"f":"Glucose","x":-0.1,"v":0.1,"s":2},{"f":"Glucose","x":-0.1,"v":0.1,"s":-2},
{"f":"Glucose","x":0.1,"v":0.1,"s":0},{"f":"Glucose","x":0.1,"v":0.1,"s":1},{"f":"Glucose","x":0.1,"v":0.1,"s":-1},{"f":"Glucose","x":0.1,"v":0.1,"s":2},{"f":"Glucose","x":0.1,"v":0.1,"s":-2},{"f":"Glucose","x":0.1,"v":0.1,"s":3},{"f":"Glucose","x":0.1,"v":0.1,"s":-3},
{"f":"Glucose","x":0.4,"v":0.2,"s":0},{"f":"Glucose","x":0.4,"v":0.2,"s":1},{"f":"Glucose","x":0.4,"v":0.2,"s":-1},{"f":"Glucose","x":0.4,"v":0.2,"s":2},{"f":"Glucose","x":0.4,"v":0.2,"s":-2},
{"f":"Glucose","x":0.8,"v":0.4,"s":0},{"f":"Glucose","x":0.8,"v":0.4,"s":1},{"f":"Glucose","x":0.8,"v":0.4,"s":-1},
{"f":"Glucose","x":1.2,"v":0.55,"s":0},{"f":"Glucose","x":1.2,"v":0.55,"s":1},{"f":"Glucose","x":1.2,"v":0.55,"s":-1},
{"f":"Glucose","x":1.6,"v":0.65,"s":0},{"f":"Glucose","x":1.6,"v":0.65,"s":1},
{"f":"Glucose","x":2.0,"v":0.75,"s":0},{"f":"Glucose","x":2.4,"v":0.85,"s":0},{"f":"Glucose","x":2.8,"v":0.9,"s":0},{"f":"Glucose","x":3.2,"v":0.92,"s":0},{"f":"Glucose","x":3.6,"v":0.95,"s":0},
{"f":"Glucose","x":4.0,"v":0.97,"s":0},{"f":"Glucose","x":4.4,"v":1,"s":0},{"f":"Glucose","x":4.9,"v":1,"s":0},{"f":"Glucose","x":5.3,"v":1,"s":0},{"f":"Glucose","x":5.9,"v":1,"s":0},
{"f":"Waist Circumference","x":-0.8,"v":0.05,"s":0},
{"f":"Waist Circumference","x":-0.5,"v":0.1,"s":0},{"f":"Waist Circumference","x":-0.5,"v":0.1,"s":1},{"f":"Waist Circumference","x":-0.5,"v":0.1,"s":-1},
{"f":"Waist Circumference","x":-0.2,"v":0.15,"s":0},{"f":"Waist Circumference","x":-0.2,"v":0.15,"s":1},{"f":"Waist Circumference","x":-0.2,"v":0.15,"s":-1},{"f":"Waist Circumference","x":-0.2,"v":0.15,"s":2},{"f":"Waist Circumference","x":-0.2,"v":0.15,"s":-2},
{"f":"Waist Circumference","x":0.1,"v":0.3,"s":0},{"f":"Waist Circumference","x":0.1,"v":0.3,"s":1},{"f":"Waist Circumference","x":0.1,"v":0.3,"s":-1},{"f":"Waist Circumference","x":0.1,"v":0.3,"s":2},{"f":"Waist Circumference","x":0.1,"v":0.3,"s":-2},{"f":"Waist Circumference","x":0.1,"v":0.3,"s":3},{"f":"Waist Circumference","x":0.1,"v":0.3,"s":-3},
{"f":"Waist Circumference","x":0.4,"v":0.5,"s":0},{"f":"Waist Circumference","x":0.4,"v":0.5,"s":1},{"f":"Waist Circumference","x":0.4,"v":0.5,"s":-1},{"f":"Waist Circumference","x":0.4,"v":0.5,"s":2},{"f":"Waist Circumference","x":0.4,"v":0.5,"s":-2},{"f":"Waist Circumference","x":0.4,"v":0.5,"s":3},{"f":"Waist Circumference","x":0.4,"v":0.5,"s":-3},
{"f":"Waist Circumference","x":0.7,"v":0.7,"s":0},{"f":"Waist Circumference","x":0.7,"v":0.7,"s":1},{"f":"Waist Circumference","x":0.7,"v":0.7,"s":-1},{"f":"Waist Circumference","x":0.7,"v":0.7,"s":2},{"f":"Waist Circumference","x":0.7,"v":0.7,"s":-2},
{"f":"Waist Circumference","x":1.0,"v":0.85,"s":0},{"f":"Waist Circumference","x":1.0,"v":0.85,"s":1},{"f":"Waist Circumference","x":1.0,"v":0.85,"s":-1},
{"f":"Waist Circumference","x":1.3,"v":0.92,"s":0},{"f":"Waist Circumference","x":1.3,"v":0.92,"s":1},{"f":"Waist Circumference","x":1.3,"v":0.92,"s":-1},
{"f":"Waist Circumference","x":1.7,"v":1,"s":0},{"f":"Waist Circumference","x":2.0,"v":1,"s":0},
{"f":"Cholesterol","x":-1.2,"v":1,"s":0},
{"f":"Cholesterol","x":-0.9,"v":0.95,"s":0},{"f":"Cholesterol","x":-0.9,"v":0.95,"s":1},{"f":"Cholesterol","x":-0.9,"v":0.95,"s":-1},
{"f":"Cholesterol","x":-0.6,"v":0.9,"s":0},{"f":"Cholesterol","x":-0.6,"v":0.9,"s":1},{"f":"Cholesterol","x":-0.6,"v":0.9,"s":-1},
{"f":"Cholesterol","x":-0.3,"v":0.7,"s":0},{"f":"Cholesterol","x":-0.3,"v":0.7,"s":1},{"f":"Cholesterol","x":-0.3,"v":0.7,"s":-1},{"f":"Cholesterol","x":-0.3,"v":0.7,"s":2},{"f":"Cholesterol","x":-0.3,"v":0.7,"s":-2},
{"f":"Cholesterol","x":0.0,"v":0.4,"s":0},{"f":"Cholesterol","x":0.0,"v":0.4,"s":1},{"f":"Cholesterol","x":0.0,"v":0.4,"s":-1},{"f":"Cholesterol","x":0.0,"v":0.4,"s":2},{"f":"Cholesterol","x":0.0,"v":0.4,"s":-2},{"f":"Cholesterol","x":0.0,"v":0.4,"s":3},{"f":"Cholesterol","x":0.0,"v":0.4,"s":-3},
{"f":"Cholesterol","x":0.3,"v":0.15,"s":0},{"f":"Cholesterol","x":0.3,"v":0.15,"s":1},{"f":"Cholesterol","x":0.3,"v":0.15,"s":-1},{"f":"Cholesterol","x":0.3,"v":0.15,"s":2},{"f":"Cholesterol","x":0.3,"v":0.15,"s":-2},
{"f":"Cholesterol","x":0.6,"v":0.05,"s":0},{"f":"Cholesterol","x":0.6,"v":0.05,"s":1},{"f":"Cholesterol","x":0.6,"v":0.05,"s":-1},
{"f":"Cholesterol","x":0.9,"v":0,"s":0},{"f":"Cholesterol","x":0.9,"v":0,"s":1},{"f":"Cholesterol","x":0.9,"v":0,"s":-1},
{"f":"Cholesterol","x":1.2,"v":0,"s":0},
{"f":"LDL Direct","x":-0.8,"v":1,"s":0},
{"f":"LDL Direct","x":-0.5,"v":0.9,"s":0},{"f":"LDL Direct","x":-0.5,"v":0.9,"s":1},{"f":"LDL Direct","x":-0.5,"v":0.9,"s":-1},
{"f":"LDL Direct","x":-0.2,"v":0.6,"s":0},{"f":"LDL Direct","x":-0.2,"v":0.6,"s":1},{"f":"LDL Direct","x":-0.2,"v":0.6,"s":-1},{"f":"LDL Direct","x":-0.2,"v":0.6,"s":2},{"f":"LDL Direct","x":-0.2,"v":0.6,"s":-2},
{"f":"LDL Direct","x":0.1,"v":0.2,"s":0},{"f":"LDL Direct","x":0.1,"v":0.2,"s":1},{"f":"LDL Direct","x":0.1,"v":0.2,"s":-1},{"f":"LDL Direct","x":0.1,"v":0.2,"s":2},{"f":"LDL Direct","x":0.1,"v":0.2,"s":-2},{"f":"LDL Direct","x":0.1,"v":0.2,"s":3},{"f":"LDL Direct","x":0.1,"v":0.2,"s":-3},
{"f":"LDL Direct","x":0.4,"v":0.05,"s":0},{"f":"LDL Direct","x":0.4,"v":0.05,"s":1},{"f":"LDL Direct","x":0.4,"v":0.05,"s":-1},{"f":"LDL Direct","x":0.4,"v":0.05,"s":2},{"f":"LDL Direct","x":0.4,"v":0.05,"s":-2},
{"f":"LDL Direct","x":0.65,"v":0,"s":0},
{"f":"Hip Circumference","x":-1.2,"v":1,"s":0},
{"f":"Hip Circumference","x":-0.9,"v":0.95,"s":0},{"f":"Hip Circumference","x":-0.9,"v":0.95,"s":1},{"f":"Hip Circumference","x":-0.9,"v":0.95,"s":-1},
{"f":"Hip Circumference","x":-0.6,"v":0.85,"s":0},{"f":"Hip Circumference","x":-0.6,"v":0.85,"s":1},{"f":"Hip Circumference","x":-0.6,"v":0.85,"s":-1},{"f":"Hip Circumference","x":-0.6,"v":0.85,"s":2},{"f":"Hip Circumference","x":-0.6,"v":0.85,"s":-2},
{"f":"Hip Circumference","x":-0.3,"v":0.55,"s":0},{"f":"Hip Circumference","x":-0.3,"v":0.55,"s":1},{"f":"Hip Circumference","x":-0.3,"v":0.55,"s":-1},{"f":"Hip Circumference","x":-0.3,"v":0.55,"s":2},{"f":"Hip Circumference","x":-0.3,"v":0.55,"s":-2},{"f":"Hip Circumference","x":-0.3,"v":0.55,"s":3},{"f":"Hip Circumference","x":-0.3,"v":0.55,"s":-3},
{"f":"Hip Circumference","x":0.0,"v":0.25,"s":0},{"f":"Hip Circumference","x":0.0,"v":0.25,"s":1},{"f":"Hip Circumference","x":0.0,"v":0.25,"s":-1},{"f":"Hip Circumference","x":0.0,"v":0.25,"s":2},{"f":"Hip Circumference","x":0.0,"v":0.25,"s":-2},{"f":"Hip Circumference","x":0.0,"v":0.25,"s":3},{"f":"Hip Circumference","x":0.0,"v":0.25,"s":-3},
{"f":"Hip Circumference","x":0.3,"v":0.05,"s":0},{"f":"Hip Circumference","x":0.3,"v":0.05,"s":1},{"f":"Hip Circumference","x":0.3,"v":0.05,"s":-1},{"f":"Hip Circumference","x":0.3,"v":0.05,"s":2},{"f":"Hip Circumference","x":0.3,"v":0.05,"s":-2},
{"f":"Hip Circumference","x":0.55,"v":0,"s":0},
{"f":"Body Mass Index","x":-0.3,"v":0,"s":0},{"f":"Body Mass Index","x":-0.3,"v":0,"s":1},{"f":"Body Mass Index","x":-0.3,"v":0,"s":-1},
{"f":"Body Mass Index","x":0.0,"v":0.1,"s":0},{"f":"Body Mass Index","x":0.0,"v":0.1,"s":1},{"f":"Body Mass Index","x":0.0,"v":0.1,"s":-1},{"f":"Body Mass Index","x":0.0,"v":0.1,"s":2},{"f":"Body Mass Index","x":0.0,"v":0.1,"s":-2},{"f":"Body Mass Index","x":0.0,"v":0.1,"s":3},{"f":"Body Mass Index","x":0.0,"v":0.1,"s":-3},
{"f":"Body Mass Index","x":0.3,"v":0.35,"s":0},{"f":"Body Mass Index","x":0.3,"v":0.35,"s":1},{"f":"Body Mass Index","x":0.3,"v":0.35,"s":-1},{"f":"Body Mass Index","x":0.3,"v":0.35,"s":2},{"f":"Body Mass Index","x":0.3,"v":0.35,"s":-2},{"f":"Body Mass Index","x":0.3,"v":0.35,"s":3},{"f":"Body Mass Index","x":0.3,"v":0.35,"s":-3},
{"f":"Body Mass Index","x":0.6,"v":0.7,"s":0},{"f":"Body Mass Index","x":0.6,"v":0.7,"s":1},{"f":"Body Mass Index","x":0.6,"v":0.7,"s":-1},{"f":"Body Mass Index","x":0.6,"v":0.7,"s":2},{"f":"Body Mass Index","x":0.6,"v":0.7,"s":-2},
{"f":"Body Mass Index","x":0.9,"v":0.95,"s":0},{"f":"Body Mass Index","x":0.9,"v":0.95,"s":1},{"f":"Body Mass Index","x":0.9,"v":0.95,"s":-1},
{"f":"Body Mass Index","x":1.15,"v":1,"s":0},
{"f":"Alipoprotein B","x":-0.4,"v":0,"s":0},{"f":"Alipoprotein B","x":-0.4,"v":0,"s":1},{"f":"Alipoprotein B","x":-0.4,"v":0,"s":-1},
{"f":"Alipoprotein B","x":-0.1,"v":0.05,"s":0},{"f":"Alipoprotein B","x":-0.1,"v":0.05,"s":1},{"f":"Alipoprotein B","x":-0.1,"v":0.05,"s":-1},{"f":"Alipoprotein B","x":-0.1,"v":0.05,"s":2},{"f":"Alipoprotein B","x":-0.1,"v":0.05,"s":-2},
{"f":"Alipoprotein B","x":0.15,"v":0.2,"s":0},{"f":"Alipoprotein B","x":0.15,"v":0.2,"s":1},{"f":"Alipoprotein B","x":0.15,"v":0.2,"s":-1},{"f":"Alipoprotein B","x":0.15,"v":0.2,"s":2},{"f":"Alipoprotein B","x":0.15,"v":0.2,"s":-2},{"f":"Alipoprotein B","x":0.15,"v":0.2,"s":3},{"f":"Alipoprotein B","x":0.15,"v":0.2,"s":-3},
{"f":"Alipoprotein B","x":0.45,"v":0.6,"s":0},{"f":"Alipoprotein B","x":0.45,"v":0.6,"s":1},{"f":"Alipoprotein B","x":0.45,"v":0.6,"s":-1},{"f":"Alipoprotein B","x":0.45,"v":0.6,"s":2},{"f":"Alipoprotein B","x":0.45,"v":0.6,"s":-2},
{"f":"Alipoprotein B","x":0.75,"v":0.95,"s":0},{"f":"Alipoprotein B","x":0.75,"v":0.95,"s":1},{"f":"Alipoprotein B","x":0.75,"v":0.95,"s":-1},
{"f":"Alipoprotein B","x":0.95,"v":1,"s":0},
{"f":"Weight","x":-0.3,"v":0,"s":0},{"f":"Weight","x":-0.3,"v":0,"s":1},{"f":"Weight","x":-0.3,"v":0,"s":-1},
{"f":"Weight","x":0.0,"v":0.1,"s":0},{"f":"Weight","x":0.0,"v":0.1,"s":1},{"f":"Weight","x":0.0,"v":0.1,"s":-1},{"f":"Weight","x":0.0,"v":0.1,"s":2},{"f":"Weight","x":0.0,"v":0.1,"s":-2},{"f":"Weight","x":0.0,"v":0.1,"s":3},{"f":"Weight","x":0.0,"v":0.1,"s":-3},
{"f":"Weight","x":0.3,"v":0.4,"s":0},{"f":"Weight","x":0.3,"v":0.4,"s":1},{"f":"Weight","x":0.3,"v":0.4,"s":-1},{"f":"Weight","x":0.3,"v":0.4,"s":2},{"f":"Weight","x":0.3,"v":0.4,"s":-2},
{"f":"Weight","x":0.6,"v":0.75,"s":0},{"f":"Weight","x":0.6,"v":0.75,"s":1},{"f":"Weight","x":0.6,"v":0.75,"s":-1},{"f":"Weight","x":0.6,"v":0.75,"s":2},{"f":"Weight","x":0.6,"v":0.75,"s":-2},
{"f":"Weight","x":0.9,"v":0.95,"s":0},{"f":"Weight","x":0.9,"v":0.95,"s":1},{"f":"Weight","x":0.9,"v":0.95,"s":-1},
{"f":"Weight","x":1.1,"v":1,"s":0},
{"f":"Creatinine","x":-5.0,"v":1,"s":0},
{"f":"Creatinine","x":-2.0,"v":1,"s":0},
{"f":"Creatinine","x":-1.5,"v":0.95,"s":0},{"f":"Creatinine","x":-1.5,"v":0.95,"s":1},
{"f":"Creatinine","x":-1.1,"v":0.9,"s":0},{"f":"Creatinine","x":-1.1,"v":0.9,"s":1},{"f":"Creatinine","x":-1.1,"v":0.9,"s":-1},
{"f":"Creatinine","x":-0.7,"v":0.8,"s":0},{"f":"Creatinine","x":-0.7,"v":0.8,"s":1},{"f":"Creatinine","x":-0.7,"v":0.8,"s":-1},
{"f":"Creatinine","x":-0.4,"v":0.5,"s":0},{"f":"Creatinine","x":-0.4,"v":0.5,"s":1},{"f":"Creatinine","x":-0.4,"v":0.5,"s":-1},{"f":"Creatinine","x":-0.4,"v":0.5,"s":2},{"f":"Creatinine","x":-0.4,"v":0.5,"s":-2},
{"f":"Creatinine","x":-0.1,"v":0.1,"s":0},{"f":"Creatinine","x":-0.1,"v":0.1,"s":1},{"f":"Creatinine","x":-0.1,"v":0.1,"s":-1},{"f":"Creatinine","x":-0.1,"v":0.1,"s":2},{"f":"Creatinine","x":-0.1,"v":0.1,"s":-2},{"f":"Creatinine","x":-0.1,"v":0.1,"s":3},{"f":"Creatinine","x":-0.1,"v":0.1,"s":-3},
{"f":"Creatinine","x":0.2,"v":0,"s":0},{"f":"Creatinine","x":0.2,"v":0,"s":1},{"f":"Creatinine","x":0.2,"v":0,"s":-1},{"f":"Creatinine","x":0.2,"v":0,"s":2},{"f":"Creatinine","x":0.2,"v":0,"s":-2},{"f":"Creatinine","x":0.2,"v":0,"s":3},{"f":"Creatinine","x":0.2,"v":0,"s":-3},
{"f":"Creatinine","x":0.5,"v":0,"s":0},{"f":"Creatinine","x":0.5,"v":0,"s":1},{"f":"Creatinine","x":0.5,"v":0,"s":-1}
]},
"mark": {"type": "circle", "size": 10, "opacity": 1},
"encoding": {
  "x": {"field": "x", "type": "quantitative", "scale": {"domain": [-6.3, 21.5], "nice": false, "zero": false}, "axis": {"title": "Shap Value (Impact on Model Output)", "values": [-5,0,5,10,15,20], "labelFontSize": 7, "titleFontSize": 8.5, "ticks": true, "tickSize": 3, "labelPadding": 1, "titlePadding": 2}},
  "y": {"field": "f", "type": "nominal", "sort": ["HbA1c","Glucose","Waist Circumference","Cholesterol","LDL Direct","Hip Circumference","Body Mass Index","Alipoprotein B","Weight","Creatinine"], "scale": {"paddingInner": 0, "paddingOuter": 0.28, "align": 0.84}, "axis": {"title": null, "labelFontSize": 8.5, "ticks": false, "domain": false, "labelPadding": 6, "grid": true, "gridColor": "#f2f2f2"}},
  "yOffset": {"field": "s", "type": "quantitative", "scale": {"domain": [-4, 4]}},
  "color": {"field": "v", "type": "quantitative", "scale": {"domain": [0, 0.5, 1], "range": ["#3C8DF3", "#7B2DE3", "#EE1A7B"]}, "legend": null}
}
},
{"data": {"values": [{"lvl": "High"}, {"lvl": "Average"}, {"lvl": "Low"}]},
 "mark": {"type": "point", "filled": true, "opacity": 0},
 "encoding": {
  "x": {"datum": 0, "type": "quantitative", "axis": {"orient": "top", "title": "Type 2 Diabetes", "labels": false, "ticks": false, "domain": false, "titleFontSize": 8.5, "titlePadding": 1, "titleFontWeight": "normal"}},
  "fill": {"field": "lvl", "type": "nominal", "scale": {"domain": ["High","Average","Low"], "range": ["#EE1A7B","#7B2DE3","#3C8DF3"]}, "legend": {"title": "Feature Value", "orient": "bottom-right", "offset": 4, "symbolOpacity": 1, "symbolType": "circle", "symbolSize": 70, "labelFontSize": 8.5, "titleFontSize": 8.5, "titleFontWeight": "normal", "labelColor": "#222", "titleColor": "#222"}}
 }}
]
}
]
},
{
"title": {"text": "C", "anchor": "start", "frame": "bounds", "fontSize": 20, "fontWeight": "bold", "color": "#000", "offset": -12, "dx": -4},
"columns": 2,
"bounds": "flush",
"spacing": {"row": 14, "column": 7},
"concat": [
{"title": {"text": "I – Certain infectious and parasitic diseases", "fontSize": 7.2, "offset": 1}, "width": 327, "height": 81, "data": {"name": "c"}, "transform": [{"filter": "datum.c === 'I'"}],
 "encoding": {"x": {"field": "i", "type": "ordinal", "scale": {"type": "point", "padding": 0.5}, "axis": {"title": null, "labels": false, "ticks": false}}},
 "layer": [
  {"mark": {"type": "errorbar", "color": "#5EE6BF", "opacity": 0.45, "thickness": 1.5}, "encoding": {"y": {"field": "a", "type": "quantitative", "title": null, "scale": {"domain": [0.4, 1], "nice": false, "zero": false, "clamp": true}}, "yError": {"field": "ae"}}},
  {"mark": {"type": "errorbar", "color": "#F3B262", "opacity": 0.5, "thickness": 1.5}, "encoding": {"y": {"field": "o", "type": "quantitative", "title": null}, "yError": {"field": "oe"}}},
  {"mark": {"type": "circle", "size": 30, "opacity": 1}, "encoding": {"y": {"field": "a", "type": "quantitative", "title": null}, "color": {"datum": "INTEGRATED", "scale": {"domain": ["INTEGRATED", "GENOTYPE FILTERED"], "range": ["#5EE6BF", "#F3B262"]}, "legend": {"title": "Phenotype", "orient": "bottom", "direction": "horizontal", "titleFontSize": 10.5, "titleFontWeight": "normal", "titleAnchor": "middle", "titlePadding": 2, "labelFontSize": 7, "symbolType": "circle", "symbolSize": 35, "columnPadding": 14, "offset": 4, "labelColor": "#222"}}}},
  {"mark": {"type": "circle", "size": 30, "opacity": 1}, "encoding": {"y": {"field": "o", "type": "quantitative", "title": null}, "color": {"datum": "GENOTYPE FILTERED"}}}
 ]},
{"title": {"text": "III – Diseases of the blood and blood-forming organs and certain disorders involving the immune mechanism", "fontSize": 6.5, "offset": 1}, "width": 326, "height": 81, "data": {"name": "c"}, "transform": [{"filter": "datum.c === 'III'"}],
 "encoding": {"x": {"field": "i", "type": "ordinal", "scale": {"type": "point", "padding": 0.5}, "axis": {"title": null, "labels": false, "ticks": false}}},
 "layer": [
  {"mark": {"type": "errorbar", "color": "#5EE6BF", "opacity": 0.45, "thickness": 1.5}, "encoding": {"y": {"field": "a", "type": "quantitative", "title": null, "scale": {"domain": [0.4, 1], "nice": false, "zero": false, "clamp": true}, "axis": {"labels": false}}, "yError": {"field": "ae"}}},
  {"mark": {"type": "errorbar", "color": "#F3B262", "opacity": 0.5, "thickness": 1.5}, "encoding": {"y": {"field": "o", "type": "quantitative", "title": null}, "yError": {"field": "oe"}}},
  {"mark": {"type": "circle", "size": 30, "opacity": 1}, "encoding": {"y": {"field": "a", "type": "quantitative", "title": null}, "color": {"datum": "INTEGRATED"}}},
  {"mark": {"type": "circle", "size": 30, "opacity": 1}, "encoding": {"y": {"field": "o", "type": "quantitative", "title": null}, "color": {"datum": "GENOTYPE FILTERED"}}}
 ]},
{"title": {"text": "IV – Endocrine, nutritional and metabolic diseases", "fontSize": 7.2, "offset": 1}, "width": 327, "height": 81, "data": {"name": "c"}, "transform": [{"filter": "datum.c === 'IV'"}],
 "encoding": {"x": {"field": "i", "type": "ordinal", "scale": {"type": "point", "padding": 0.5}, "axis": {"title": null, "labels": false, "ticks": false}}},
 "layer": [
  {"mark": {"type": "errorbar", "color": "#5EE6BF", "opacity": 0.45, "thickness": 1.5}, "encoding": {"y": {"field": "a", "type": "quantitative", "title": null, "scale": {"domain": [0.4, 1], "nice": false, "zero": false, "clamp": true}}, "yError": {"field": "ae"}}},
  {"mark": {"type": "errorbar", "color": "#F3B262", "opacity": 0.5, "thickness": 1.5}, "encoding": {"y": {"field": "o", "type": "quantitative", "title": null}, "yError": {"field": "oe"}}},
  {"mark": {"type": "circle", "size": 30, "opacity": 1}, "encoding": {"y": {"field": "a", "type": "quantitative", "title": null}, "color": {"datum": "INTEGRATED"}}},
  {"mark": {"type": "circle", "size": 30, "opacity": 1}, "encoding": {"y": {"field": "o", "type": "quantitative", "title": null}, "color": {"datum": "GENOTYPE FILTERED"}}}
 ]},
{"title": {"text": "V – Mental and behavioural disorders", "fontSize": 7.2, "offset": 1}, "width": 326, "height": 81, "data": {"name": "c"}, "transform": [{"filter": "datum.c === 'V'"}],
 "encoding": {"x": {"field": "i", "type": "ordinal", "scale": {"type": "point", "padding": 0.5}, "axis": {"title": null, "labels": false, "ticks": false}}},
 "layer": [
  {"mark": {"type": "errorbar", "color": "#5EE6BF", "opacity": 0.45, "thickness": 1.5}, "encoding": {"y": {"field": "a", "type": "quantitative", "title": null, "scale": {"domain": [0.4, 1], "nice": false, "zero": false, "clamp": true}, "axis": {"labels": false}}, "yError": {"field": "ae"}}},
  {"mark": {"type": "errorbar", "color": "#F3B262", "opacity": 0.5, "thickness": 1.5}, "encoding": {"y": {"field": "o", "type": "quantitative", "title": null}, "yError": {"field": "oe"}}},
  {"mark": {"type": "circle", "size": 30, "opacity": 1}, "encoding": {"y": {"field": "a", "type": "quantitative", "title": null}, "color": {"datum": "INTEGRATED"}}},
  {"mark": {"type": "circle", "size": 30, "opacity": 1}, "encoding": {"y": {"field": "o", "type": "quantitative", "title": null}, "color": {"datum": "GENOTYPE FILTERED"}}}
 ]},
{"title": {"text": "VI – Diseases of the nervous system", "fontSize": 7.2, "offset": 1}, "width": 327, "height": 81, "data": {"name": "c"}, "transform": [{"filter": "datum.c === 'VI'"}],
 "encoding": {"x": {"field": "i", "type": "ordinal", "scale": {"type": "point", "padding": 0.5}, "axis": {"title": null, "labels": false, "ticks": false}}},
 "layer": [
  {"mark": {"type": "errorbar", "color": "#5EE6BF", "opacity": 0.45, "thickness": 1.5}, "encoding": {"y": {"field": "a", "type": "quantitative", "title": null, "scale": {"domain": [0.4, 1], "nice": false, "zero": false, "clamp": true}}, "yError": {"field": "ae"}}},
  {"mark": {"type": "errorbar", "color": "#F3B262", "opacity": 0.5, "thickness": 1.5}, "encoding": {"y": {"field": "o", "type": "quantitative", "title": null}, "yError": {"field": "oe"}}},
  {"mark": {"type": "circle", "size": 30, "opacity": 1}, "encoding": {"y": {"field": "a", "type": "quantitative", "title": null}, "color": {"datum": "INTEGRATED"}}},
  {"mark": {"type": "circle", "size": 30, "opacity": 1}, "encoding": {"y": {"field": "o", "type": "quantitative", "title": null}, "color": {"datum": "GENOTYPE FILTERED"}}}
 ]},
{"title": {"text": "VII – Diseases of the eye and adnexa", "fontSize": 7.2, "offset": 1}, "width": 326, "height": 81, "data": {"name": "c"}, "transform": [{"filter": "datum.c === 'VII'"}],
 "encoding": {"x": {"field": "i", "type": "ordinal", "scale": {"type": "point", "padding": 0.5}, "axis": {"title": null, "labels": false, "ticks": false}}},
 "layer": [
  {"mark": {"type": "errorbar", "color": "#5EE6BF", "opacity": 0.45, "thickness": 1.5}, "encoding": {"y": {"field": "a", "type": "quantitative", "title": null, "scale": {"domain": [0.4, 1], "nice": false, "zero": false, "clamp": true}, "axis": {"labels": false}}, "yError": {"field": "ae"}}},
  {"mark": {"type": "errorbar", "color": "#F3B262", "opacity": 0.5, "thickness": 1.5}, "encoding": {"y": {"field": "o", "type": "quantitative", "title": null}, "yError": {"field": "oe"}}},
  {"mark": {"type": "circle", "size": 30, "opacity": 1}, "encoding": {"y": {"field": "a", "type": "quantitative", "title": null}, "color": {"datum": "INTEGRATED"}}},
  {"mark": {"type": "circle", "size": 30, "opacity": 1}, "encoding": {"y": {"field": "o", "type": "quantitative", "title": null}, "color": {"datum": "GENOTYPE FILTERED"}}}
 ]},
{"title": {"text": "VIII – Diseases of the ear and mastoid process", "fontSize": 7.2, "offset": 1}, "width": 327, "height": 81, "data": {"name": "c"}, "transform": [{"filter": "datum.c === 'VIII'"}],
 "encoding": {"x": {"field": "i", "type": "ordinal", "scale": {"type": "point", "padding": 0.5}, "axis": {"title": null, "labels": false, "ticks": false}}},
 "layer": [
  {"mark": {"type": "errorbar", "color": "#5EE6BF", "opacity": 0.45, "thickness": 1.5}, "encoding": {"y": {"field": "a", "type": "quantitative", "title": "ROC AUC", "scale": {"domain": [0.4, 1], "nice": false, "zero": false, "clamp": true}}, "yError": {"field": "ae"}}},
  {"mark": {"type": "errorbar", "color": "#F3B262", "opacity": 0.5, "thickness": 1.5}, "encoding": {"y": {"field": "o", "type": "quantitative", "title": "ROC AUC"}, "yError": {"field": "oe"}}},
  {"mark": {"type": "circle", "size": 30, "opacity": 1}, "encoding": {"y": {"field": "a", "type": "quantitative", "title": "ROC AUC"}, "color": {"datum": "INTEGRATED"}}},
  {"mark": {"type": "circle", "size": 30, "opacity": 1}, "encoding": {"y": {"field": "o", "type": "quantitative", "title": "ROC AUC"}, "color": {"datum": "GENOTYPE FILTERED"}}}
 ]},
{"title": {"text": "IX – Diseases of the circulatory system", "fontSize": 7.2, "offset": 1}, "width": 326, "height": 81, "data": {"name": "c"}, "transform": [{"filter": "datum.c === 'IX'"}],
 "encoding": {"x": {"field": "i", "type": "ordinal", "scale": {"type": "point", "padding": 0.5}, "axis": {"title": null, "labels": false, "ticks": false}}},
 "layer": [
  {"mark": {"type": "errorbar", "color": "#5EE6BF", "opacity": 0.45, "thickness": 1.5}, "encoding": {"y": {"field": "a", "type": "quantitative", "title": null, "scale": {"domain": [0.4, 1], "nice": false, "zero": false, "clamp": true}, "axis": {"labels": false}}, "yError": {"field": "ae"}}},
  {"mark": {"type": "errorbar", "color": "#F3B262", "opacity": 0.5, "thickness": 1.5}, "encoding": {"y": {"field": "o", "type": "quantitative", "title": null}, "yError": {"field": "oe"}}},
  {"mark": {"type": "circle", "size": 30, "opacity": 1}, "encoding": {"y": {"field": "a", "type": "quantitative", "title": null}, "color": {"datum": "INTEGRATED"}}},
  {"mark": {"type": "circle", "size": 30, "opacity": 1}, "encoding": {"y": {"field": "o", "type": "quantitative", "title": null}, "color": {"datum": "GENOTYPE FILTERED"}}}
 ]},
{"title": {"text": "X – Diseases of the respiratory system", "fontSize": 7.2, "offset": 1}, "width": 327, "height": 81, "data": {"name": "c"}, "transform": [{"filter": "datum.c === 'X'"}],
 "encoding": {"x": {"field": "i", "type": "ordinal", "scale": {"type": "point", "padding": 0.5}, "axis": {"title": null, "labels": false, "ticks": false}}},
 "layer": [
  {"mark": {"type": "errorbar", "color": "#5EE6BF", "opacity": 0.45, "thickness": 1.5}, "encoding": {"y": {"field": "a", "type": "quantitative", "title": null, "scale": {"domain": [0.4, 1], "nice": false, "zero": false, "clamp": true}}, "yError": {"field": "ae"}}},
  {"mark": {"type": "errorbar", "color": "#F3B262", "opacity": 0.5, "thickness": 1.5}, "encoding": {"y": {"field": "o", "type": "quantitative", "title": null}, "yError": {"field": "oe"}}},
  {"mark": {"type": "circle", "size": 30, "opacity": 1}, "encoding": {"y": {"field": "a", "type": "quantitative", "title": null}, "color": {"datum": "INTEGRATED"}}},
  {"mark": {"type": "circle", "size": 30, "opacity": 1}, "encoding": {"y": {"field": "o", "type": "quantitative", "title": null}, "color": {"datum": "GENOTYPE FILTERED"}}}
 ]},
{"title": {"text": "XI – Diseases of the digestive system", "fontSize": 7.2, "offset": 1}, "width": 326, "height": 81, "data": {"name": "c"}, "transform": [{"filter": "datum.c === 'XI'"}],
 "encoding": {"x": {"field": "i", "type": "ordinal", "scale": {"type": "point", "padding": 0.5}, "axis": {"title": null, "labels": false, "ticks": false}}},
 "layer": [
  {"mark": {"type": "errorbar", "color": "#5EE6BF", "opacity": 0.45, "thickness": 1.5}, "encoding": {"y": {"field": "a", "type": "quantitative", "title": null, "scale": {"domain": [0.4, 1], "nice": false, "zero": false, "clamp": true}, "axis": {"labels": false}}, "yError": {"field": "ae"}}},
  {"mark": {"type": "errorbar", "color": "#F3B262", "opacity": 0.5, "thickness": 1.5}, "encoding": {"y": {"field": "o", "type": "quantitative", "title": null}, "yError": {"field": "oe"}}},
  {"mark": {"type": "circle", "size": 30, "opacity": 1}, "encoding": {"y": {"field": "a", "type": "quantitative", "title": null}, "color": {"datum": "INTEGRATED"}}},
  {"mark": {"type": "circle", "size": 30, "opacity": 1}, "encoding": {"y": {"field": "o", "type": "quantitative", "title": null}, "color": {"datum": "GENOTYPE FILTERED"}}}
 ]},
{"title": {"text": "XII – Diseases of the skin and subcutaneous tissue", "fontSize": 7.2, "offset": 1}, "width": 327, "height": 81, "data": {"name": "c"}, "transform": [{"filter": "datum.c === 'XII'"}],
 "encoding": {"x": {"field": "i", "type": "ordinal", "scale": {"type": "point", "padding": 0.5}, "axis": {"title": null, "labels": false, "ticks": false}}},
 "layer": [
  {"mark": {"type": "errorbar", "color": "#5EE6BF", "opacity": 0.45, "thickness": 1.5}, "encoding": {"y": {"field": "a", "type": "quantitative", "title": null, "scale": {"domain": [0.4, 1], "nice": false, "zero": false, "clamp": true}}, "yError": {"field": "ae"}}},
  {"mark": {"type": "errorbar", "color": "#F3B262", "opacity": 0.5, "thickness": 1.5}, "encoding": {"y": {"field": "o", "type": "quantitative", "title": null}, "yError": {"field": "oe"}}},
  {"mark": {"type": "circle", "size": 30, "opacity": 1}, "encoding": {"y": {"field": "a", "type": "quantitative", "title": null}, "color": {"datum": "INTEGRATED"}}},
  {"mark": {"type": "circle", "size": 30, "opacity": 1}, "encoding": {"y": {"field": "o", "type": "quantitative", "title": null}, "color": {"datum": "GENOTYPE FILTERED"}}}
 ]},
{"title": {"text": "XIII – Diseases of the musculoskeletal system and connective tissue", "fontSize": 7.2, "offset": 1}, "width": 326, "height": 81, "data": {"name": "c"}, "transform": [{"filter": "datum.c === 'XIII'"}],
 "encoding": {"x": {"field": "i", "type": "ordinal", "scale": {"type": "point", "padding": 0.5}, "axis": {"title": null, "labels": false, "ticks": false}}},
 "layer": [
  {"mark": {"type": "errorbar", "color": "#5EE6BF", "opacity": 0.45, "thickness": 1.5}, "encoding": {"y": {"field": "a", "type": "quantitative", "title": null, "scale": {"domain": [0.4, 1], "nice": false, "zero": false, "clamp": true}, "axis": {"labels": false}}, "yError": {"field": "ae"}}},
  {"mark": {"type": "errorbar", "color": "#F3B262", "opacity": 0.5, "thickness": 1.5}, "encoding": {"y": {"field": "o", "type": "quantitative", "title": null}, "yError": {"field": "oe"}}},
  {"mark": {"type": "circle", "size": 30, "opacity": 1}, "encoding": {"y": {"field": "a", "type": "quantitative", "title": null}, "color": {"datum": "INTEGRATED"}}},
  {"mark": {"type": "circle", "size": 30, "opacity": 1}, "encoding": {"y": {"field": "o", "type": "quantitative", "title": null}, "color": {"datum": "GENOTYPE FILTERED"}}}
 ]},
{"title": {"text": "XIV – Diseases of the genitourinary system", "fontSize": 7.2, "offset": 1}, "width": 327, "height": 81, "data": {"name": "c"}, "transform": [{"filter": "datum.c === 'XIV'"}],
 "encoding": {"x": {"field": "i", "type": "ordinal", "scale": {"type": "point", "padding": 0.5}, "axis": {"title": null, "labels": false, "ticks": false}}},
 "layer": [
  {"mark": {"type": "errorbar", "color": "#5EE6BF", "opacity": 0.45, "thickness": 1.5}, "encoding": {"y": {"field": "a", "type": "quantitative", "title": null, "scale": {"domain": [0.4, 1], "nice": false, "zero": false, "clamp": true}}, "yError": {"field": "ae"}}},
  {"mark": {"type": "errorbar", "color": "#F3B262", "opacity": 0.5, "thickness": 1.5}, "encoding": {"y": {"field": "o", "type": "quantitative", "title": null}, "yError": {"field": "oe"}}},
  {"mark": {"type": "circle", "size": 30, "opacity": 1}, "encoding": {"y": {"field": "a", "type": "quantitative", "title": null}, "color": {"datum": "INTEGRATED"}}},
  {"mark": {"type": "circle", "size": 30, "opacity": 1}, "encoding": {"y": {"field": "o", "type": "quantitative", "title": null}, "color": {"datum": "GENOTYPE FILTERED"}}}
 ]},
{"title": {"text": "XV – Pregnancy, childbirth and the puerperium", "fontSize": 7.2, "offset": 1}, "width": 326, "height": 81, "data": {"name": "c"}, "transform": [{"filter": "datum.c === 'XV'"}],
 "encoding": {"x": {"field": "i", "type": "ordinal", "scale": {"type": "point", "padding": 0.5}, "axis": {"title": null, "labels": false, "ticks": false}}},
 "layer": [
  {"mark": {"type": "errorbar", "color": "#5EE6BF", "opacity": 0.45, "thickness": 1.5}, "encoding": {"y": {"field": "a", "type": "quantitative", "title": null, "scale": {"domain": [0.4, 1], "nice": false, "zero": false, "clamp": true}, "axis": {"labels": false}}, "yError": {"field": "ae"}}},
  {"mark": {"type": "errorbar", "color": "#F3B262", "opacity": 0.5, "thickness": 1.5}, "encoding": {"y": {"field": "o", "type": "quantitative", "title": null}, "yError": {"field": "oe"}}},
  {"mark": {"type": "circle", "size": 30, "opacity": 1}, "encoding": {"y": {"field": "a", "type": "quantitative", "title": null}, "color": {"datum": "INTEGRATED"}}},
  {"mark": {"type": "circle", "size": 30, "opacity": 1}, "encoding": {"y": {"field": "o", "type": "quantitative", "title": null}, "color": {"datum": "GENOTYPE FILTERED"}}}
 ]}
]
}
]
}
